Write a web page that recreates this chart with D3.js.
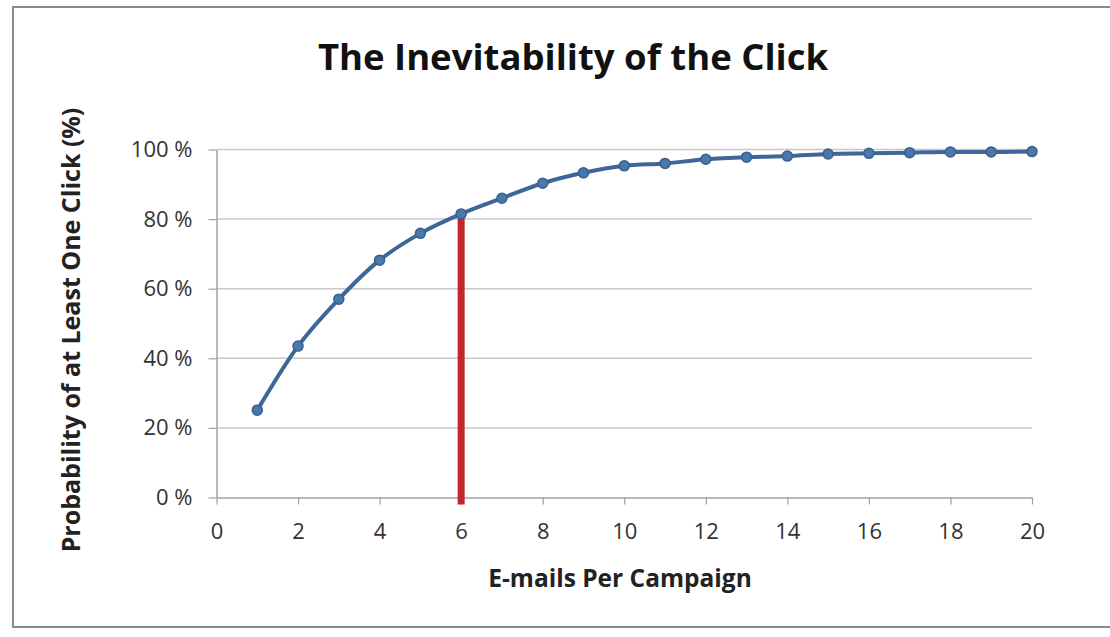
<!DOCTYPE html>
<html>
<head>
<meta charset="utf-8">
<script src="https://cdn.jsdelivr.net/npm/d3@7"></script>
<style>
  body { margin: 0; background: #fff; }
  #svg-container { width: 1110px; height: 637px; }
  text { font-family: "Open Sans", sans-serif; }
</style>
</head>
<body>
<div id="svg-container"></div>
<script>
////////////////////////////////////////////////////////////////////
////////////////////////////  Data  ////////////////////////////////
const emails = [1, 2, 3, 4, 5, 6, 7, 8, 9, 10, 11, 12, 13, 14, 15, 16, 17, 18, 19, 20];
const probability = [25.1, 43.5, 57.0, 68.2, 75.9, 81.5, 86.0, 90.3, 93.3, 95.3,
  96.0, 97.2, 97.8, 98.1, 98.7, 98.9, 99.1, 99.3, 99.3, 99.4];
const xTicks = [0, 2, 4, 6, 8, 10, 12, 14, 16, 18, 20];
const yTicks = [0, 20, 40, 60, 80, 100];
const markerX = 6; // red marker at 6 e-mails
const markerRange = [81.5, -2];

const data = emails.map((d, i) => ({ n: d, p: probability[i] }));

////////////////////////////////////////////////////////////////////
////////////////////////////  Init  ////////////////////////////////
const width = 1110;
const height = 637;
const margin = { top: 149.5, right: 78, bottom: 139.5, left: 216.5 };

const svg = d3
  .select("#svg-container")
  .append("svg")
  .attr("width", width)
  .attr("height", height);

// chart frame
svg
  .append("rect")
  .attr("x", 13)
  .attr("y", 7)
  .attr("width", 1110)
  .attr("height", 620)
  .attr("fill", "none")
  .attr("stroke", "#8a8a8a")
  .attr("stroke-width", 2);

const xScale = d3.scaleLinear().domain([0, 20]).range([margin.left, width - margin.right]);
const yScale = d3.scaleLinear().domain([0, 100]).range([height - margin.bottom, margin.top]);

// gridlines
svg
  .append("g")
  .attr("class", "grid")
  .selectAll("line")
  .data(yTicks.filter((d) => d > 0))
  .join("line")
  .attr("x1", xScale(0))
  .attr("x2", xScale(20))
  .attr("y1", (d) => yScale(d))
  .attr("y2", (d) => yScale(d))
  .attr("stroke", "#c8c8c8")
  .attr("stroke-width", 1.5);

// axes
const xAxis = d3
  .axisBottom(xScale)
  .tickValues(xTicks)
  .tickSize(7)
  .tickSizeOuter(0)
  .tickPadding(19);

const yAxis = d3
  .axisLeft(yScale)
  .tickValues(yTicks)
  .tickSize(8)
  .tickSizeOuter(0)
  .tickPadding(16)
  .tickFormat((d) => d + " %");

const gx = svg
  .append("g")
  .attr("class", "x-axis")
  .attr("transform", `translate(0,${yScale(0)})`)
  .call(xAxis);

const gy = svg
  .append("g")
  .attr("class", "y-axis")
  .attr("transform", `translate(${xScale(0)},0)`)
  .call(yAxis);

[gx, gy].forEach((g) => {
  g.select(".domain").attr("stroke", "#a0a0a0").attr("stroke-width", 1.5);
  g.selectAll(".tick line").attr("stroke", "#a0a0a0").attr("stroke-width", 1.2);
  g.selectAll(".tick text").attr("fill", "#333").attr("font-size", 22);
});

// red marker line
svg
  .append("line")
  .attr("x1", xScale(markerX))
  .attr("x2", xScale(markerX))
  .attr("y1", yScale(markerRange[0]))
  .attr("y2", yScale(markerRange[1]))
  .attr("stroke", "#c0262c")
  .attr("stroke-width", 7);

// series line
const line = d3
  .line()
  .curve(d3.curveMonotoneX)
  .x((d) => xScale(d.n))
  .y((d) => yScale(d.p));

svg
  .append("path")
  .datum(data)
  .attr("fill", "none")
  .attr("stroke", "#3e6797")
  .attr("stroke-width", 4)
  .attr("d", line);

svg
  .append("g")
  .selectAll("circle")
  .data(data)
  .join("circle")
  .attr("cx", (d) => xScale(d.n))
  .attr("cy", (d) => yScale(d.p))
  .attr("r", 5)
  .attr("fill", "#4a78ad")
  .attr("stroke", "#3a5f8c")
  .attr("stroke-width", 1.5);

// titles
svg
  .append("text")
  .attr("x", 573)
  .attr("y", 70)
  .attr("text-anchor", "middle")
  .attr("font-size", 36.5)
  .attr("font-weight", "bold")
  .attr("fill", "#111")
  .text("The Inevitability of the Click");

svg
  .append("text")
  .attr("x", 620)
  .attr("y", 587)
  .attr("text-anchor", "middle")
  .attr("font-size", 24.5)
  .attr("font-weight", "bold")
  .attr("fill", "#222")
  .text("E-mails Per Campaign");

svg
  .append("text")
  .attr("transform", "translate(80,330) rotate(-90)")
  .attr("text-anchor", "middle")
  .attr("font-size", 25)
  .attr("font-weight", "bold")
  .attr("fill", "#222")
  .text("Probability of at Least One Click (%)");
</script>
</body>
</html>
